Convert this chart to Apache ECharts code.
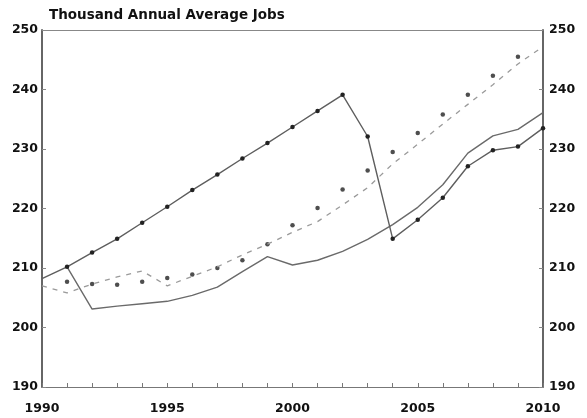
<!DOCTYPE html>
<html><head><meta charset="utf-8">
<script src="https://cdn.jsdelivr.net/npm/echarts@6/dist/echarts.min.js"></script>
<style>html,body{margin:0;padding:0;background:#fff}#c{width:587px;height:418px}</style>
</head><body><div id="c"></div>
<script>
var title = 'Thousand Annual Average Jobs';
var years = [1990,1991,1992,1993,1994,1995,1996,1997,1998,1999,2000,2001,2002,2003,2004,2005,2006,2007,2008,2009,2010];
// solid line with markers
var upperMarked = [208.2,210.2,212.6,214.9,217.6,220.3,223.1,225.7,228.4,231.0,233.7,236.4,239.1,232.1,214.9,218.1,221.8,227.1,229.8,230.4,233.5];
// solid line without markers (from 1991)
var lowerYears = [1991,1992,1993,1994,1995,1996,1997,1998,1999,2000,2001,2002,2003,2004,2005,2006,2007,2008,2009,2010];
var lowerSolid = [210.2,203.1,203.6,204.0,204.4,205.4,206.8,209.4,211.9,210.5,211.3,212.8,214.8,217.3,220.2,224.0,229.3,232.2,233.3,236.1];
// dashed line
var dashed = [207.0,205.8,207.3,208.5,209.5,207.0,208.6,210.2,212.2,214.0,216.0,217.8,220.6,223.5,227.5,230.8,234.2,237.5,240.8,244.3,247.2];
// dotted markers
var dotYears = [1991,1992,1993,1994,1995,1996,1997,1998,1999,2000,2001,2002,2003,2004,2005,2006,2007,2008,2009];
var dots = [207.7,207.3,207.2,207.7,208.3,208.9,210.0,211.3,214.0,217.2,220.1,223.2,226.4,229.5,232.7,235.8,239.1,242.3,245.5];
var yTicks = [190,200,210,220,230,240,250];
var xTicks = [1990,1995,2000,2005,2010];

function pairs(xs, ys){ return xs.map(function(x,i){ return [x, ys[i]]; }); }

var FONT = 'DejaVu Sans, Liberation Sans, Arial, sans-serif';
var lab = {color:'#111', fontWeight:'bold', fontSize:12.5, fontFamily:FONT};
var chart = echarts.init(document.getElementById('c'), null, {renderer:'canvas'});
chart.setOption({
  animation:false,
  backgroundColor:'#fff',
  title:{text:title, left:44, top:3, textStyle:{fontSize:13.5, fontWeight:'bold', color:'#111', fontFamily:FONT}},
  grid:{left:42, right:44, top:30, bottom:31},
  xAxis:[{
    type:'value', min:1990, max:2010, interval:5, position:'bottom',
    axisLine:{show:true, lineStyle:{color:'#777', width:1}},
    axisTick:{show:true, inside:true, length:4, lineStyle:{color:'#777'}},
    minorTick:{show:true, splitNumber:5, length:4, lineStyle:{color:'#777'}},
    splitLine:{show:false},
    axisLabel:Object.assign({margin:15, formatter:function(v){return xTicks.indexOf(v)>=0? String(v):'';}}, lab)
  },{
    type:'value', min:1990, max:2010, position:'top',
    axisLine:{show:true, lineStyle:{color:'#888', width:1}},
    axisTick:{show:false}, axisLabel:{show:false}, splitLine:{show:false}
  }],
  yAxis:[{
    type:'value', min:190, max:250, interval:10, position:'left',
    axisLine:{show:true, lineStyle:{color:'#666', width:2}},
    axisTick:{show:true, inside:true, length:4, lineStyle:{color:'#888'}},
    splitLine:{show:false},
    axisLabel:Object.assign({margin:4, formatter:function(v){return yTicks.indexOf(v)>=0? String(v):'';}}, lab)
  },{
    type:'value', min:190, max:250, interval:10, position:'right',
    axisLine:{show:true, lineStyle:{color:'#666', width:2}},
    axisTick:{show:true, inside:true, length:4, lineStyle:{color:'#888'}},
    splitLine:{show:false},
    axisLabel:Object.assign({margin:6}, lab)
  }],
  series:[
    {type:'line', data:pairs(years, dashed), showSymbol:false, symbol:'none',
     lineStyle:{color:'#9a9a9a', width:1.3, type:[5,6]}},
    {type:'scatter', data:pairs(dotYears, dots), symbol:'circle', symbolSize:4.5,
     itemStyle:{color:'#222'}},
    {type:'line', data:pairs(lowerYears, lowerSolid), showSymbol:false, symbol:'none',
     lineStyle:{color:'#6a6a6a', width:1.4}},
    {type:'line', data:pairs(years, upperMarked), symbol:'circle',
     symbolSize:function(v,p){ return p.dataIndex===0?0:4.5; },
     itemStyle:{color:'#222'}, lineStyle:{color:'#5e5e5e', width:1.4}}
  ]
});
</script></body></html>
